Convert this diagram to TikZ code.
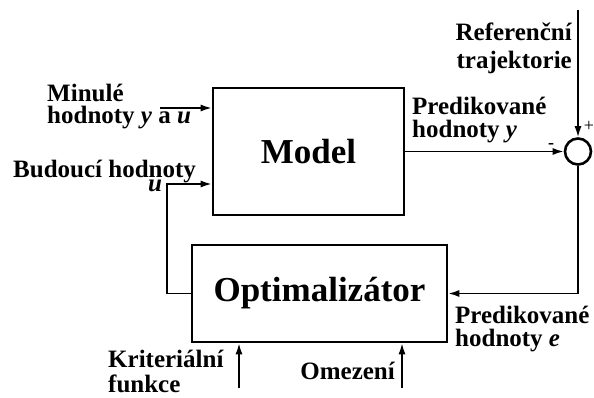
\documentclass[tikz,border=0pt]{standalone}
\usepackage{fontspec}
\setmainfont{Liberation Serif}
\usetikzlibrary{arrows.meta,positioning}

\begin{document}
\begin{tikzpicture}[x=1pt, y=-1pt, every node/.style={font=\bfseries\fontsize{25}{23}\selectfont}]
\tikzset{block/.style={draw, line width=2.6pt, inner sep=0pt, font=\bfseries\fontsize{35}{40}\selectfont}}
\tikzset{sig/.style={line width=1.6pt, -{Latex[length=11pt,width=7pt]}}}
\tikzset{lbl/.style={inner sep=0pt, align=left}}
\useasboundingbox (0,0) rectangle (594,398);
% blocks
\node[block, minimum width=191pt, minimum height=127pt] (model) at (308.5,151.5) {Model};
\node[block, minimum width=255pt, minimum height=97pt] (opt) at (319.5,293.5) {Optimalizátor};
\node[draw, circle, line width=2.6pt, minimum size=26pt, inner sep=0pt] (sum) at (578,151.5) {};
% inputs of the model
\node[lbl, anchor=base west, font=\bfseries\fontsize{25}{22}\selectfont] (pastlbl) at (47,124) {Minulé\\hodnoty \textit{y} a \textit{u}};
\coordinate (past) at (160,108);
\draw[sig] (past) -- (past -| model.west);
\node[lbl, anchor=base west] (futlbl) at (13,178) {Budoucí hodnoty};
\node[lbl, anchor=base west] (futu) at (148,192) {\textit{u}};
\coordinate (fut) at (model.west |- 0,184);
\draw[sig] (opt.west) -- ++(-24,0) |- (fut);
% reference and comparison
\node[lbl, anchor=base east, align=right, font=\bfseries\fontsize{25}{28}\selectfont] (reflbl) at (572,69) {Referenční\\trajektorie};
\coordinate (ref) at (sum.north |- 0,10);
\draw[sig] (ref) -- (sum.north);
\draw[sig] (model.east) -- (sum.west);
\node[lbl, anchor=base west] (predy) at (412,138) {Predikované\\hodnoty \textit{y}};
\node[font=\bfseries\fontsize{18}{18}\selectfont] (minus) at (551,146) {-};
\node[font=\fontsize{18}{18}\selectfont] (plus) at (589,126) {+};
% feedback to the optimizer
\draw[sig] (sum.south) |- (opt.east);
\node[lbl, anchor=base west] (prede) at (455,346) {Predikované\\hodnoty \textit{e}};
% inputs of the optimizer
\coordinate (crit) at (239,388);
\draw[sig] (crit) -- (crit |- opt.south);
\node[lbl, anchor=base west, font=\bfseries\fontsize{25}{25}\selectfont] (critlbl) at (108,392) {Kriteriální\\funkce};
\coordinate (lim) at (402,388);
\draw[sig] (lim) -- (lim |- opt.south);
\node[lbl, anchor=base east] (limlbl) at (395,379) {Omezení};
\end{tikzpicture}
\end{document}
